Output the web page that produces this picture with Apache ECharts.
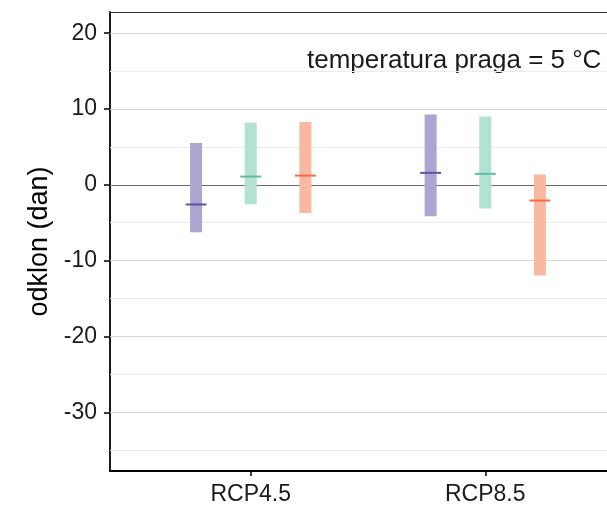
<!DOCTYPE html>
<html>
<head>
<meta charset="utf-8">
<script src="https://cdn.jsdelivr.net/npm/echarts@6/dist/echarts.min.js"></script>
<style>html,body{margin:0;padding:0;background:#fff}#c{width:607px;height:506px}</style>
</head>
<body>
<div id="c"></div>
<script>
// ---- data ----
const categories = ['RCP4.5', 'RCP8.5'];
const seriesNames = ['a', 'b', 'c'];
const lowA = [-6.24, -4.13];
const highA = [5.53, 9.29];
const medA = [-2.59, 1.58];
const lowB = [-2.55, -3.12];
const highB = [8.20, 9.03];
const medB = [1.09, 1.45];
const lowC = [-3.73, -11.97];
const highC = [8.29, 1.36];
const medC = [1.22, -2.07];
const yTicks = [-30, -20, -10, 0, 10, 20];
const yMinor = [-35, -25, -15, -5, 5, 15];
const annotation = 'temperatura praga = 5 °C';

// ---- styling / layout ----
const FONT = '"Liberation Sans", Arial, Helvetica, sans-serif';
const barColors = ['#aba5d1', '#b3e1d3', '#f9b9a1'];
const medColors = ['#5c55a4', '#5fc09f', '#f26c45'];
const dodge = [-0.233, 0, 0.233];
const lows = [lowA, lowB, lowC];
const highs = [highA, highB, highC];
const meds = [medA, medB, medC];

const chart = echarts.init(document.getElementById('c'), null, {renderer: 'canvas'});

const series = [];
// grid lines via markLine on an empty helper series (drawn beneath the bars)
series.push({
  type: 'line', data: [], silent: true, animation: false, z: 1,
  markLine: {
    symbol: 'none', silent: true, label: {show: false}, animation: false, z: 1,
    data: [
      ...yMinor.map(v => ({yAxis: v, lineStyle: {color: '#ebebeb', width: 1, type: 'solid'}})),
      ...yTicks.filter(v => v !== 0).map(v => ({yAxis: v, lineStyle: {color: '#d4d4d4', width: 1.2, type: 'solid'}})),
      {yAxis: 0, lineStyle: {color: '#6b6b6b', width: 1.2, type: 'solid'}}
    ]
  }
});

for (let s = 0; s < 3; s++) {
  const data = categories.map((c, i) => [i + 1 + dodge[s], lows[s][i], highs[s][i], meds[s][i]]);
  series.push({
    type: 'custom', name: seriesNames[s], animation: false, z: 5,
    data: data,
    encode: {x: 0, y: [1, 2, 3]},
    renderItem: function (params, api) {
      const x = api.value(0);
      const pLow = api.coord([x, api.value(1)]);
      const pHigh = api.coord([x, api.value(2)]);
      const pMed = api.coord([x, api.value(3)]);
      const w = 12, mw = 21;
      return {
        type: 'group',
        children: [
          {type: 'rect', shape: {x: pLow[0] - w / 2, y: pHigh[1], width: w, height: pLow[1] - pHigh[1]},
           style: {fill: barColors[s]}},
          {type: 'line', shape: {x1: pMed[0] - mw / 2, y1: pMed[1], x2: pMed[0] + mw / 2, y2: pMed[1]},
           style: {stroke: medColors[s], lineWidth: 2}}
        ]
      };
    }
  });
}

const xMin = 0.4, xMax = 2.519; // right side of the panel is cut off by the image edge

chart.setOption({
  animation: false,
  backgroundColor: '#fff',
  textStyle: {fontFamily: FONT},
  grid: {left: 110, top: 12, right: 0, bottom: 34},
  xAxis: [{
    type: 'value', min: xMin, max: xMax,
    axisLine: {show: true, onZero: false, lineStyle: {color: '#000', width: 1.8}},
    axisTick: {show: true, length: 5, customValues: [1, 2], lineStyle: {color: '#000', width: 1.5}},
    axisLabel: {customValues: [1, 2], formatter: v => categories[Math.round(v) - 1], color: '#1a1a1a',
      fontSize: 23, fontFamily: FONT, margin: 12},
    splitLine: {show: false}
  }, {
    type: 'value', min: xMin, max: xMax, position: 'top',
    axisLine: {show: true, onZero: false, lineStyle: {color: '#333', width: 1.2}},
    axisTick: {show: false}, axisLabel: {show: false}, splitLine: {show: false}
  }],
  yAxis: {
    type: 'value', min: -37.75, max: 22.8,
    name: 'odklon (dan)', nameLocation: 'middle', nameRotate: 90, nameGap: 50,
    nameTextStyle: {fontSize: 27, color: '#000', fontFamily: FONT},
    axisLine: {show: true, onZero: false, lineStyle: {color: '#000', width: 1.8}},
    axisTick: {show: true, length: 6, customValues: yTicks, lineStyle: {color: '#000', width: 1.5}},
    axisLabel: {customValues: yTicks, color: '#1a1a1a', fontSize: 23, fontFamily: FONT, margin: 13},
    splitLine: {show: false}
  },
  graphic: [{
    type: 'text', left: 307, top: 48,
    style: {text: annotation, font: '26px ' + FONT, fill: '#1a1a1a'}
  }],
  series: series
});
</script>
</body>
</html>
